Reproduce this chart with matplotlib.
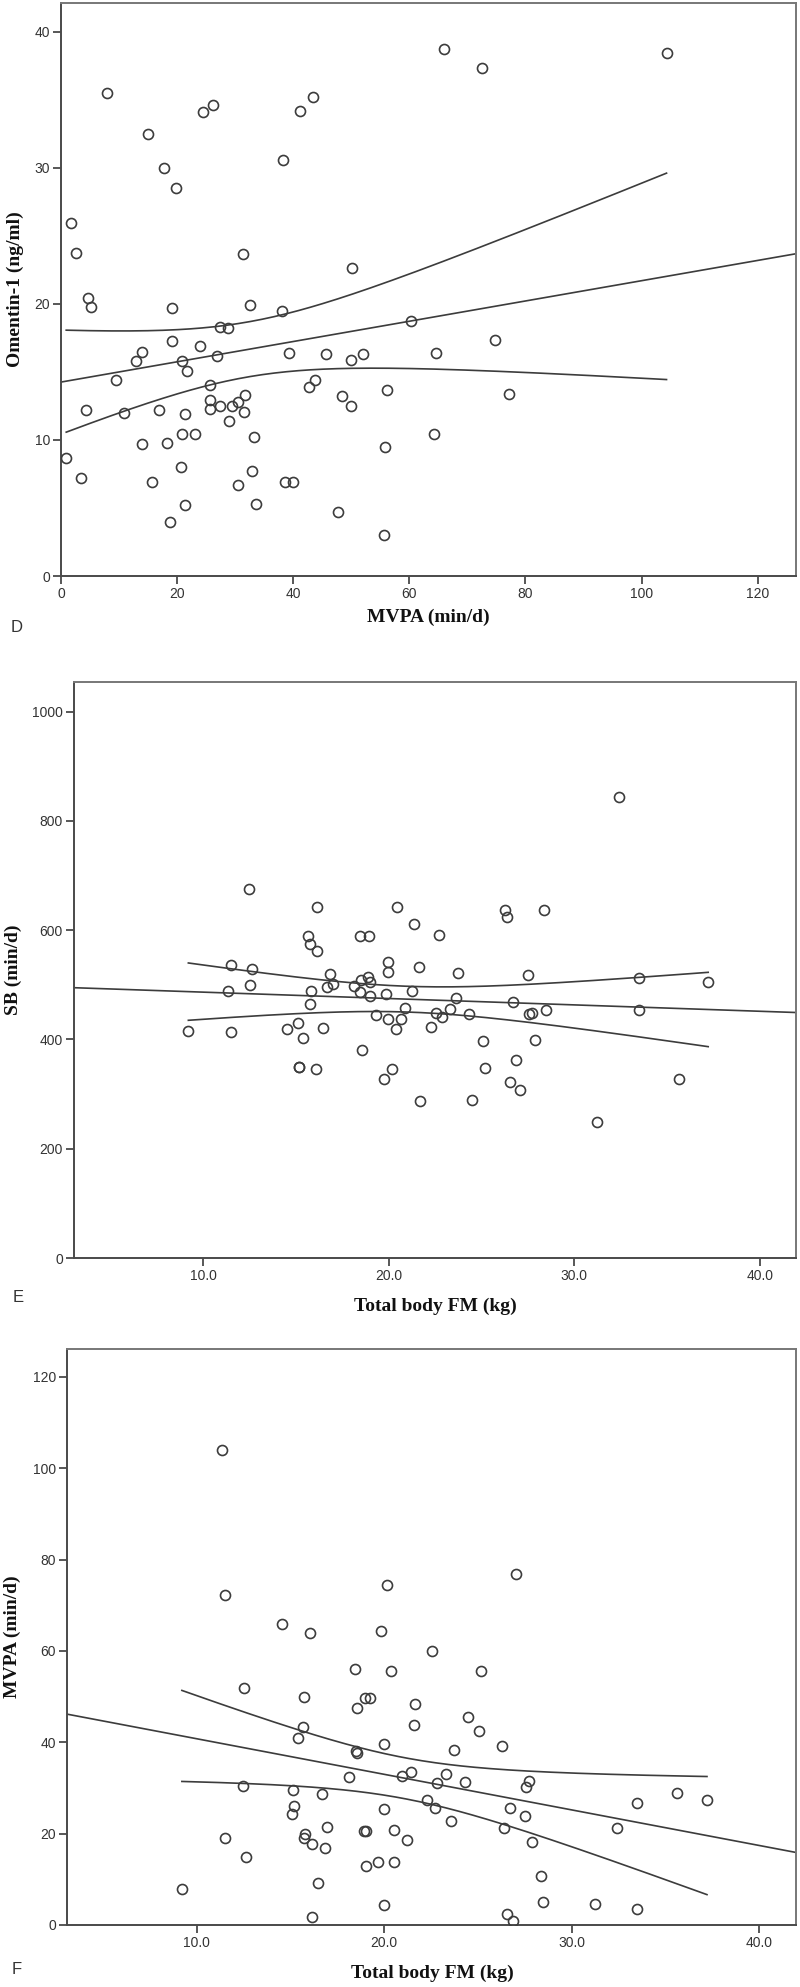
import numpy as np
import matplotlib
matplotlib.use('Agg')
import matplotlib.pyplot as plt

# panel D : MVPA vs omentin-1
d_mvpa = [7.9, 14.95, 17.7, 19.8, 24.5, 26.1, 38.2, 41.1, 43.4, 1.7, 2.5, 31.3, 50.1, 4.7,
	66.0, 72.6, 104.3,
	5.1, 19.2, 32.6, 38.05, 27.4, 28.7, 19.1, 24.0, 13.9, 12.9, 20.9, 21.7, 26.8, 39.3, 45.7,
	49.9, 52.1, 9.4, 25.7, 42.7, 43.8, 56.1, 4.3, 10.9, 16.9, 21.4, 25.6, 25.7, 27.4, 28.9,
	29.5, 30.5, 31.7, 31.5, 48.4, 49.9, 0.9, 3.5, 13.9, 18.3, 20.8, 23.0, 20.7, 33.3, 55.8,
	15.7, 30.5, 32.9, 38.5, 39.9, 21.4, 33.6, 18.7, 47.7, 55.7,
	60.2, 74.8, 64.6, 77.2, 64.3]
d_omentin = [35.5, 32.5, 30.0, 28.5, 34.1, 34.6, 30.6, 34.2, 35.2, 25.9, 23.7, 23.65, 22.6, 20.4,
	38.7, 37.3, 38.4,
	19.75, 19.7, 19.9, 19.5, 18.3, 18.2, 17.3, 16.9, 16.45, 15.8, 15.8, 15.05, 16.2, 16.4, 16.3,
	15.9, 16.3, 14.4, 14.0, 13.85, 14.4, 13.7, 12.2, 12.0, 12.2, 11.9, 12.9, 12.3, 12.5, 11.4,
	12.5, 12.8, 13.3, 12.05, 13.2, 12.5, 8.65, 7.2, 9.7, 9.75, 10.4, 10.4, 8.0, 10.2, 9.5,
	6.9, 6.7, 7.75, 6.9, 6.9, 5.2, 5.3, 4.0, 4.7, 3.0,
	18.7, 17.35, 16.4, 13.4, 10.4]

# panel E : total body FM vs SB
e_fm = [12.5, 16.14, 15.67, 15.78, 16.14, 18.44, 18.96, 20.43,
	32.4, 21.38, 22.72, 26.25, 26.39, 28.35,
	11.49, 12.65, 11.35, 12.55, 9.21, 11.5, 15.83, 15.76, 14.54, 15.1, 15.4, 16.45, 15.17, 15.17,
	16.1, 16.84, 16.68, 16.98, 18.15, 18.5, 18.89, 18.99, 18.47, 18.99, 19.84, 19.98, 19.95,
	19.3, 19.95, 20.38, 18.58, 20.16, 19.73,
	21.63, 23.75, 27.52, 33.48, 37.21, 21.24, 23.6, 26.71, 20.89, 22.53, 22.87, 23.3, 24.31,
	27.57, 27.72, 28.47, 33.46, 20.66, 22.3, 25.08, 27.88, 26.84, 25.19, 26.53, 27.07, 21.67,
	24.49, 35.63, 31.23]
e_sb = [675.7, 642.8, 589, 574.6, 562, 589, 589, 642.8,
	843.5, 611.7, 591, 636, 624.6, 636,
	536, 528, 488.6, 499, 414.8, 413.5, 488.6, 465.4, 419, 429.4, 403, 420.3, 350, 350,
	345.8, 519.7, 496.4, 500.8, 498.2, 509.2, 514.7, 505, 486.2, 479.4, 483, 542, 523.9,
	444.7, 436.8, 418.5, 381.2, 345.3, 327.5,
	532, 521, 517.8, 512.9, 504.4, 488.6, 475.8, 469, 456.9, 448.3, 441.5, 455, 446,
	446, 449, 453.8, 453.8, 437.3, 422, 397.6, 399.5, 361.7, 347, 321.4, 308, 287.3,
	289.7, 328, 248.9]

# panel F : total body FM vs MVPA
f_fm = [11.32, 11.49, 14.52, 16.06, 20.13, 19.8, 18.46, 20.38,
	27.05, 22.52, 25.18,
	12.54, 15.72, 18.53, 18.96, 19.26, 15.65, 15.4, 19.96, 18.48, 18.57, 18.14, 12.47, 15.14,
	16.67, 15.16, 15.07, 19.97, 16.97, 15.78, 15.72, 18.92, 19.01, 20.52, 11.48, 16.13, 16.84,
	12.63, 19.0, 19.69, 20.54, 16.47, 9.2, 19.97, 16.12,
	21.66, 21.61, 24.49, 25.06, 26.28, 23.74, 20.95, 21.4, 23.3, 22.84, 24.29, 27.71, 27.55,
	22.3, 22.73, 26.71, 27.51, 23.58, 26.39, 21.22, 27.87, 35.62, 37.22, 33.47, 32.42, 28.36,
	28.47, 31.26, 33.47, 26.53, 26.85]
f_mvpa = [103.9, 72.3, 65.8, 64.0, 74.4, 64.4, 56.0, 55.7,
	76.9, 59.9, 55.6,
	51.8, 49.9, 47.5, 49.8, 49.8, 43.3, 40.9, 39.7, 38.0, 37.7, 32.3, 30.4, 29.5,
	28.6, 26.0, 24.4, 25.5, 21.5, 19.85, 19.1, 20.6, 20.6, 20.9, 19.0, 17.7, 16.9,
	14.8, 12.9, 13.9, 13.9, 9.3, 7.8, 4.3, 1.7,
	48.3, 43.7, 45.5, 42.5, 39.1, 38.4, 32.6, 33.5, 33.1, 31.1, 31.3, 31.6, 30.3,
	27.3, 25.6, 25.6, 23.9, 22.8, 21.3, 18.5, 18.1, 28.8, 27.3, 26.6, 21.3, 10.8,
	5.1, 4.6, 3.5, 2.4, 0.9]

ink = '#3c3c3c'
W = 800.0
H = 1987.0


def px_axes(fig, left, top, right, bottom):
	return fig.add_axes([left / W, 1 - bottom / H, (right - left) / W, (bottom - top) / H])


def fit_lines(ax, x, y, xlim, t=1.99):
	x = np.asarray(x, float)
	y = np.asarray(y, float)
	n = len(x)
	b, a = np.polyfit(x, y, 1)
	resid = y - (a + b * x)
	s = np.sqrt(np.sum(resid ** 2) / (n - 2))
	sxx = np.sum((x - x.mean()) ** 2)

	# fit over the whole axis
	xx = np.linspace(xlim[0], xlim[1], 200)
	ax.plot(xx, a + b * xx, color=ink, lw=1.2, zorder=2)

	# 95% CI of mean over the data range
	xc = np.linspace(x.min(), x.max(), 200)
	hw = t * s * np.sqrt(1.0 / n + (xc - x.mean()) ** 2 / sxx)
	ax.plot(xc, a + b * xc + hw, color=ink, lw=1.2, zorder=2)
	ax.plot(xc, a + b * xc - hw, color=ink, lw=1.2, zorder=2)


def style(ax, xlim, ylim, xticks, yticks, xfmt):
	ax.scatter([], [])
	ax.set_xlim(xlim)
	ax.set_ylim(ylim)
	ax.set_xticks(xticks)
	ax.set_yticks(yticks)
	ax.set_xticklabels([xfmt % v for v in xticks])
	ax.set_yticklabels(['%d' % v for v in yticks])
	for side in ['left', 'bottom', 'top', 'right']:
		ax.spines[side].set_color('#4a4a4a')
		ax.spines[side].set_linewidth(1.4)
	ax.spines['top'].set_color('#777777')
	ax.spines['right'].set_color('#777777')
	ax.tick_params(direction='out', length=6, width=1.3, color='#4a4a4a',
		labelsize=10, labelcolor='#333333', pad=2)
	for lab in ax.get_xticklabels() + ax.get_yticklabels():
		lab.set_fontfamily('Liberation Sans')


def points(ax, x, y):
	ax.plot(x, y, 'o', ms=7.2, mfc='none', mec=ink, mew=1.2, zorder=3)


fig = plt.figure(figsize=(8, 19.87), dpi=100)
fig.patch.set_facecolor('white')

lab_font = dict(family='Liberation Serif', weight='bold', size=14, color='#111111')
tag_font = dict(family='Liberation Sans', size=12, color='#333333')

# D
ax1 = px_axes(fig, 61, 3, 796, 576)
xl = (0, 126.6)
fit_lines(ax1, d_mvpa, d_omentin, xl)
points(ax1, d_mvpa, d_omentin)
style(ax1, xl, (0, 42.1), [0, 20, 40, 60, 80, 100, 120], [0, 10, 20, 30, 40], '%d')
fig.text(428 / W, 1 - 617 / H, 'MVPA (min/d)', ha='center', va='center', **lab_font)
fig.text(15 / W, 1 - 289 / H, 'Omentin-1 (ng/ml)', ha='center', va='center', rotation=90, **lab_font)
fig.text(17 / W, 1 - 627 / H, 'D', ha='center', va='center', **tag_font)

# E
ax2 = px_axes(fig, 74, 682, 796, 1258)
xl = (3.05, 41.94)
fit_lines(ax2, e_fm, e_sb, xl)
points(ax2, e_fm, e_sb)
style(ax2, xl, (0, 1054), [10, 20, 30, 40], [0, 200, 400, 600, 800, 1000], '%.1f')
fig.text(435 / W, 1 - 1306 / H, 'Total body FM (kg)', ha='center', va='center', **lab_font)
fig.text(13 / W, 1 - 970 / H, 'SB (min/d)', ha='center', va='center', rotation=90, **lab_font)
fig.text(18 / W, 1 - 1297 / H, 'E', ha='center', va='center', **tag_font)

# F
ax3 = px_axes(fig, 67, 1349, 796, 1925)
xl = (3.07, 41.97)
fit_lines(ax3, f_fm, f_mvpa, xl)
points(ax3, f_fm, f_mvpa)
style(ax3, xl, (0, 126.1), [10, 20, 30, 40], [0, 20, 40, 60, 80, 100, 120], '%.1f')
fig.text(432 / W, 1 - 1973 / H, 'Total body FM (kg)', ha='center', va='center', **lab_font)
fig.text(12 / W, 1 - 1637 / H, 'MVPA (min/d)', ha='center', va='center', rotation=90, **lab_font)
fig.text(17 / W, 1 - 1970 / H, 'F', ha='center', va='center', **tag_font)

fig.savefig('out.png', dpi=100, facecolor='white')
